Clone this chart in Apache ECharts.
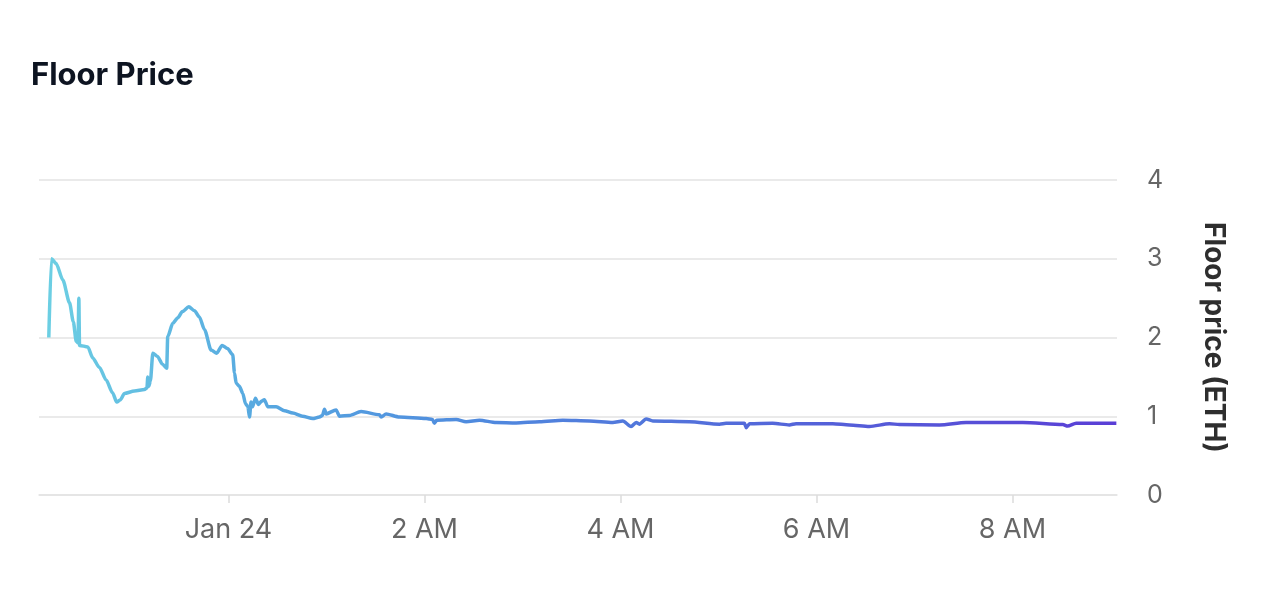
<!DOCTYPE html>
<html>
<head>
<meta charset="utf-8">
<script src="https://cdn.jsdelivr.net/npm/echarts@6/dist/echarts.min.js"></script>
<style>
  html, body { margin: 0; padding: 0; background: #fff; }
  #chart { width: 1282px; height: 606px; }
</style>
</head>
<body>
<div id="chart"></div>
<script>
// minutes relative to midnight Jan 24 (negative = Jan 23)
var minutes = [
    -110, -108.4, -105.5, -101.4, -97.3, -95, -93.2, -92.1, -91.6, -91.2,
    -86.1, -83.1, -79, -74.9, -71, -68.4, -66.1, -63.7, -57.6, -51.4,
    -49.9, -49.4, -48.8, -47.8, -46.3, -43.5, -40.4, -37.8, -37.2, -34.1,
    -31, -28.2, -24.3, -20.8, -17.8, -14.7, -10.6, -7.2, -3.9, -0.6,
    2.6, 3.7, 4.7, 6.7, 8.8, 10.4, 11.9, 12.9, 13.8, 14.7,
    16.5, 18.4, 20.2, 22, 24.1, 29.2, 34.3, 39.4, 45.3, 51.6,
    55.7, 57.5, 58.8, 59.8, 65.9, 68, 74.1, 81.2, 92.4, 93.5,
    96.5, 104.7, 121, 124.9, 126.1, 127.5, 139.4, 145.5, 153.7, 163.9,
    176.1, 190.4, 204.7, 221, 235.3, 241.4, 246.5, 249.6, 251.6, 255.7,
    259.8, 282.2, 300.6, 304.7, 315.9, 317, 319, 333.2, 343.4, 347.5,
    370, 380.2, 392.4, 404.7, 410.8, 435.3, 451.6, 486.3, 510.8, 513.8,
    519, 543.6
];
var floorPrice = [
    2.0, 3.0, 2.94, 2.73, 2.44, 2.2, 1.95, 1.93, 2.5, 1.9,
    1.88, 1.74, 1.62, 1.46, 1.3, 1.18, 1.21, 1.29, 1.32, 1.34,
    1.36, 1.5, 1.38, 1.45, 1.8, 1.76, 1.66, 1.61, 2.01, 2.18,
    2.25, 2.33, 2.39, 2.34, 2.26, 2.1, 1.84, 1.8, 1.9, 1.86,
    1.78, 1.55, 1.42, 1.38, 1.29, 1.16, 1.12, 0.99, 1.18, 1.12,
    1.23, 1.15, 1.19, 1.21, 1.12, 1.12, 1.07, 1.04, 1.0, 0.97,
    0.99, 1.01, 1.09, 1.03, 1.08, 1.0, 1.01, 1.06, 1.02, 0.99,
    1.03, 0.99, 0.97, 0.96, 0.91, 0.95, 0.96, 0.93, 0.95, 0.92,
    0.915, 0.93, 0.95, 0.94, 0.92, 0.94, 0.87, 0.92, 0.9, 0.965,
    0.94, 0.93, 0.9, 0.91, 0.91, 0.855, 0.905, 0.91, 0.89, 0.905,
    0.905, 0.89, 0.87, 0.905, 0.895, 0.89, 0.92, 0.92, 0.895, 0.875,
    0.91, 0.91
];
var tickMinutes = [0, 120, 240, 360, 480];
var tickLabels = ['Jan 24', '2 AM', '4 AM', '6 AM', '8 AM'];
var yTicks = [0, 1, 2, 3, 4];

var seriesData = minutes.map(function (m, i) {
    return [m, floorPrice[i]];
});

var chart = echarts.init(document.getElementById('chart'));

var option = {
    animation: false,
    backgroundColor: '#fff',
    title: {
        text: 'Floor Price',
        left: 31,
        top: 60,
        padding: 0,
        textStyle: {
            fontFamily: 'Inter',
            fontSize: 31,
            fontWeight: 700,
            color: '#0d1421'
        }
    },
    grid: {
        left: 39,
        right: 165,
        top: 180,
        bottom: 111
    },
    xAxis: {
        type: 'value',
        min: -116,
        max: 544,
        axisLine: { show: true, lineStyle: { color: '#e3e3e3', width: 1.5 } },
        axisTick: {
            show: true,
            length: 8,
            lineStyle: { color: '#dcdcdc', width: 1.5 },
            customValues: tickMinutes
        },
        axisLabel: {
            customValues: tickMinutes,
            margin: 21,
            fontFamily: 'Inter',
            fontSize: 27,
            color: '#666',
            formatter: function (v) {
                var idx = tickMinutes.indexOf(v);
                return idx >= 0 ? tickLabels[idx] : '';
            }
        },
        splitLine: { show: false }
    },
    yAxis: {
        type: 'value',
        position: 'right',
        min: yTicks[0],
        max: yTicks[yTicks.length - 1],
        interval: 1,
        axisLine: { show: false },
        axisTick: { show: false },
        axisLabel: {
            margin: 30,
            fontFamily: 'Inter',
            fontSize: 25,
            color: '#666'
        },
        splitLine: { lineStyle: { color: '#e3e3e3', width: 1.5 } },
        name: 'Floor price (ETH)',
        nameLocation: 'middle',
        nameRotate: -90,
        nameGap: 82,
        nameTextStyle: {
            fontFamily: 'Inter',
            fontSize: 28,
            fontWeight: 700,
            color: '#2e2e2e'
        }
    },
    series: [{
        type: 'line',
        data: seriesData,
        showSymbol: false,
        smooth: 0.25,
        smoothMonotone: 'x',
        lineStyle: {
            width: 3.5,
            color: new echarts.graphic.LinearGradient(0, 0, 1, 0, [
                { offset: 0, color: '#6ccfe3' },
                { offset: 0.2, color: '#57a8e0' },
                { offset: 0.4, color: '#4f8ade' },
                { offset: 0.7, color: '#5464d9' },
                { offset: 1, color: '#5a3ed6' }
            ])
        }
    }]
};

chart.setOption(option);
</script>
</body>
</html>
